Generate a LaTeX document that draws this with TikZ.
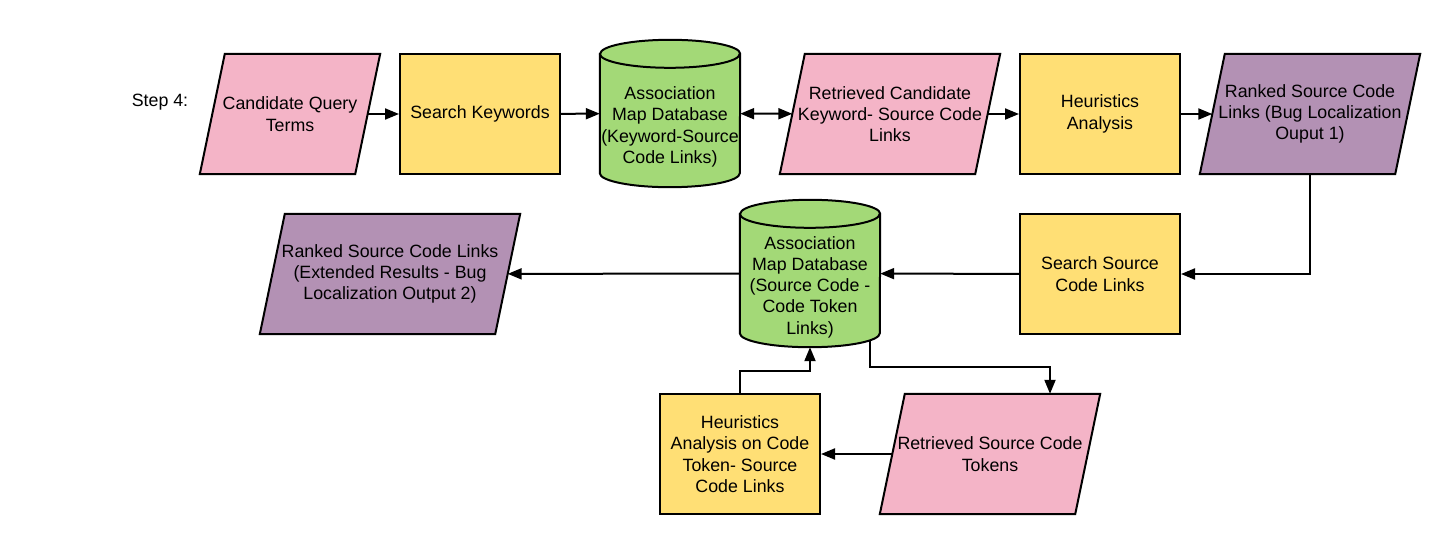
\documentclass[tikz,border=0pt]{standalone}
\usepackage{fontspec}
\setmainfont{Liberation Sans}
\usetikzlibrary{arrows.meta, backgrounds}

\definecolor{dataPink}{RGB}{244,180,199}
\definecolor{processYellow}{RGB}{255,223,117}
\definecolor{storeGreen}{RGB}{163,217,119}
\definecolor{outputPurple}{RGB}{179,145,180}

\begin{document}
\begin{tikzpicture}[x = 1pt, y = -1pt,
						every node/.style = {font = \fontsize{17.8}{21.3}\selectfont, align = center},
						process/.style = {draw, line width = 2pt, fill = processYellow, minimum width = 160pt, minimum height = 120pt, inner sep = 0pt},
						data/.style = {minimum width = 195pt, minimum height = 120pt, inner sep = 0pt, inner xsep = -25pt},
						store/.style = {minimum width = 140pt, minimum height = 147pt, inner sep = 0pt},
						outline/.style = {line width = 2pt, line join = miter},
						link/.style = {-{Triangle[length = 14pt, width = 11pt]}, line width = 2pt},
						both link/.style = {{Triangle[length = 14pt, width = 11pt]}-{Triangle[length = 14pt, width = 11pt]}, line width = 2pt},
						]
	
		\useasboundingbox (0, 0) rectangle (1440, 554);
		
		% First row
		\node (stepLabel) at (160, 102) {Step 4:};
		\node[data, minimum width = 155pt] (queryTerms) at (290, 114) {Candidate Query\\Terms};
		\node[process] (searchKeywords) at (480, 114) {Search Keywords};
		\node[store] (keywordMap) at (670, 113.5) {};
		\node (keywordMapText) at (670, 127) {Association\\Map Database\\(Keyword-Source\\Code Links)};
		\node[data] (candidateLinks) at (890, 114) {Retrieved Candidate\\Keyword- Source Code\\Links};
		\node[process] (heuristics) at (1100, 114) {Heuristics\\Analysis};
		\node[data] (rankedLinks) at (1310, 114) {Ranked Source Code\\Links (Bug Localization\\Ouput 1)};
		
		% Second row
		\node[process] (searchLinks) at (1100, 274) {Search Source\\Code Links};
		\node[store] (tokenMap) at (810, 273.5) {};
		\node (tokenMapText) at (810, 287) {Association\\Map Database\\(Source Code -\\Code Token\\Links)};
		\node[data, minimum width = 235pt] (extendedLinks) at (390, 274) {Ranked Source Code Links\\(Extended Results - Bug\\Localization Output 2)};
		
		% Third row
		\node[process] (tokenHeuristics) at (740, 454) {Heuristics\\Analysis on Code\\Token- Source\\Code Links};
		\node[data] (sourceTokens) at (990, 454) {Retrieved Source Code\\Tokens};
		
		% Parallelograms and cylinders behind the texts
		\begin{scope}[on background layer]
			\foreach \shape/\colour in {queryTerms/dataPink, candidateLinks/dataPink, sourceTokens/dataPink, rankedLinks/outputPurple, extendedLinks/outputPurple}
				\draw[outline, fill = \colour] ([xshift = -12.5pt]\shape.south west) -- ([xshift = 12.5pt]\shape.north west) -- ([xshift = 12.5pt]\shape.north east) -- ([xshift = -12.5pt]\shape.south east) -- cycle;
			\foreach \shape in {keywordMap, tokenMap} {
				\draw[outline, fill = storeGreen] ([yshift = -14pt]\shape.north west) -- ([yshift = 14pt]\shape.south west) arc[start angle = 180, end angle = 360, x radius = 70pt, y radius = 14pt] -- ([yshift = -14pt]\shape.north east) arc[start angle = 0, end angle = 180, x radius = 70pt, y radius = 14pt] -- cycle;
				\draw[outline] ([yshift = -14pt]\shape.north west) arc[start angle = 180, end angle = 360, x radius = 70pt, y radius = 14pt];
			}
		\end{scope}
		
		% Connectors
		\draw[link] (queryTerms) -- (searchKeywords);
		\draw[link] (searchKeywords) -- (keywordMap);
		\draw[both link] (keywordMap) -- (candidateLinks);
		\draw[link] (candidateLinks) -- (heuristics);
		\draw[link] (heuristics) -- (rankedLinks);
		\draw[link] (rankedLinks.south) |- (searchLinks.east);
		\draw[link] (searchLinks) -- (tokenMap);
		\draw[link] (tokenMap) -- (extendedLinks);
		\draw[link] ([xshift = 60pt, yshift = 7pt]tokenMap.south) -- ++(0, 27) -| ([xshift = 60pt]sourceTokens.north);
		\draw[link] (sourceTokens) -- (tokenHeuristics);
		\draw[link] (tokenHeuristics.north) -- ++(0, -22) -| (tokenMap.south);
		
	\end{tikzpicture}
\end{document}
